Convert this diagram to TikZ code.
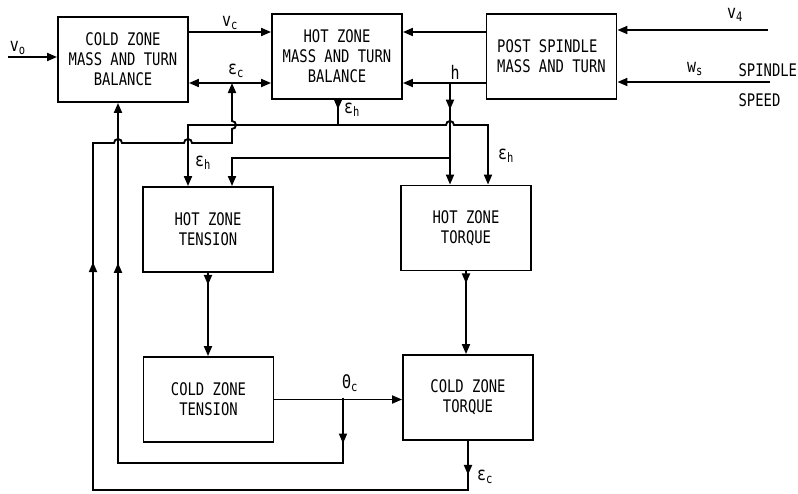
\documentclass[tikz,border=0pt]{standalone}
\usepackage{fontspec}
\newfontfamily\plotfont[FakeStretch=0.8]{DejaVu Sans Mono}
\usetikzlibrary{arrows.meta,decorations.markings}

\begin{document}
\begin{tikzpicture}[
  x=0.75pt, y=-0.75pt,
  font=\plotfont\fontsize{13}{15}\selectfont,
  line width=1.4pt,
  >={Triangle[length=7.5pt,width=6pt]},
  blk/.style={draw, align=center, minimum width=97.5pt, minimum height=63.75pt,
              inner sep=2pt},
  lbl/.style={inner sep=1pt, font=\plotfont\fontsize{14}{15}\selectfont},
  word/.style={inner sep=0.5pt, anchor=west},
  tipat/.style={postaction={decorate, decoration={markings,
                mark=at position #1 with {\arrow{>}}}}},
]
\useasboundingbox (0,0) rectangle (798,493);
% blocks
\node[blk] (cmtb) at (123,59.5) {COLD ZONE\\MASS AND TURN\\BALANCE};
\node[blk] (hmtb) at (337,56.5) {HOT ZONE\\MASS AND TURN\\BALANCE};
\node[blk, align=left] (post) at (551.5,56.5) {POST SPINDLE\\MASS AND TURN};
\node[blk] (hten) at (208,229.5) {HOT ZONE\\TENSION};
\node[blk] (htor) at (466,228) {HOT ZONE\\TORQUE};
\node[blk] (cten) at (208.5,399.5) {COLD ZONE\\TENSION};
\node[blk] (ctor) at (468,397.5) {COLD ZONE\\TORQUE};
% junctions and free ends
\coordinate (v0in) at (8,57);
\coordinate (v4in) at (768,30);
\coordinate (wsin) at (770,82);
\coordinate (ecj) at (232,83);
\coordinate (hj) at (450,83);
\coordinate (hj2) at (450,158);
\coordinate (ehj) at (338,125);
\coordinate (thj) at (343,397.5);
% top row
\draw[->] (v0in) -- node[lbl, above, pos=0.2] {v\textsubscript{o}} (v0in -| cmtb.west);
\draw[->] (cmtb.east |- 0,32) -- node[lbl, above] {v\textsubscript{c}} (hmtb.west |- 0,32);
\draw[->] (ecj) -- (ecj -| cmtb.east);
\draw[->] (ecj) -- (ecj -| hmtb.west);
\node[lbl] (eclbl) at (236,71) {ε\textsubscript{c}};
\draw[->] (post.west |- 0,32) -- (hmtb.east |- 0,32);
\draw[->] (post.west |- 0,83) -- (hmtb.east |- 0,83);
\node[lbl] (hlbl) at (455,72) {h};
\draw[->] (v4in) -- (v4in -| post.east);
\node[lbl] (v4lbl) at (735,15) {v\textsubscript{4}};
\draw[->] (wsin) -- (wsin -| post.east);
\node[lbl] (wslbl) at (695,69) {w\textsubscript{s}};
\node[word] (spd1) at (737,70) {SPINDLE};
\node[word] (spd2) at (737,100) {SPEED};
% h and eps_h distribution
\draw[->, tipat=20pt] (hj) -- (hj |- htor.north);
\draw[tipat=7pt] (ehj |- hmtb.south) -- (ehj);
\node[lbl] (ehlbl1) at (352,110) {ε\textsubscript{h}};
\draw[->] (ehj) -- (188,125) -- (188,0 |- hten.north);
\node[lbl] (ehlbl2) at (203,163) {ε\textsubscript{h}};
\draw[->] (ehj) -- (446,125) arc[start angle=180, end angle=0, radius=3pt]
  -- (488,125) -- (488,0 |- htor.north);
\node[lbl] (ehlbl3) at (506,156) {ε\textsubscript{h}};
\draw[->] (hj2) -- (232,158) -- (232,0 |- hten.north);
% tension and torque chain
\draw[->, tipat=9pt] (hten.south) -- (hten.south |- cten.north);
\draw[->, tipat=9pt] (htor.south) -- (htor.south |- ctor.north);
\draw[->] (cten.east) -- (cten.east -| ctor.west);
\node[lbl] (thlbl) at (350,383) {Θ\textsubscript{c}};
% feedback loops
\draw[->, tipat=34.5pt, tipat=368pt] (thj) -- (343,463) -- (118,463)
  -- (118,0 |- cmtb.south);
\draw[->, tipat=25.5pt, tipat=489pt] (ctor.south) -- (468,490) -- (93,490)
  -- (93,143) -- (114,143) arc[start angle=180, end angle=0, radius=3pt]
  -- (184,143) arc[start angle=180, end angle=0, radius=3pt]
  -- (232,143) -- (232,129) arc[start angle=-90, end angle=90, radius=3pt]
  -- (ecj);
\node[lbl] (eclbl2) at (485,477) {ε\textsubscript{c}};
\end{tikzpicture}
\end{document}
